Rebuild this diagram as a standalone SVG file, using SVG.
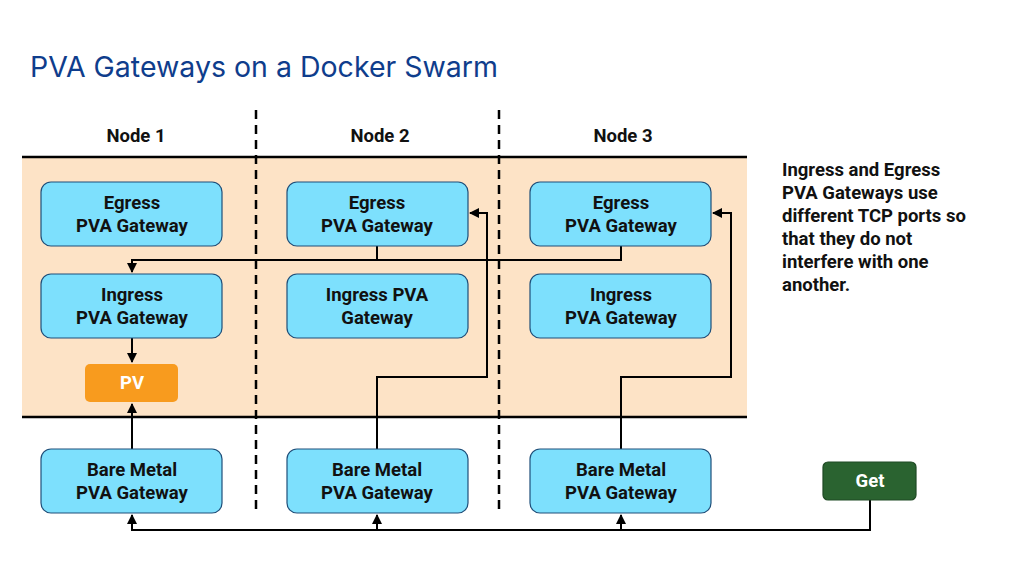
<svg xmlns="http://www.w3.org/2000/svg" width="1024" height="576" viewBox="0 0 1024 576">
<defs>
<marker id="ah" viewBox="0 0 10 10" refX="9" refY="5" markerWidth="5" markerHeight="5" orient="auto"><path d="M0,0L10,5L0,10z" fill="#000"/></marker>
<style>
.n{fill:#7de0fd;stroke:#1f4f7a;stroke-width:1.2}
.t{font-family:Roboto,"Liberation Sans",sans-serif;font-weight:bold;font-size:18.5px;text-anchor:middle;fill:#111}
.w{font-family:Roboto,"Liberation Sans",sans-serif;font-weight:bold;font-size:18.5px;text-anchor:middle;fill:#fff}
.c{fill:none;stroke:#000;stroke-width:2}
.d{stroke:#000;stroke-width:2.5;stroke-dasharray:9,6}
</style>
</defs>
<rect width="1024" height="576" fill="#fff"/>
<text x="30" y="77" font-family="Inter,'Noto Sans',sans-serif" font-size="28.5" fill="#0f3d8c">PVA Gateways on a Docker Swarm</text>
<rect x="22" y="157" width="725" height="260" fill="#fde3c6"/>
<line x1="22" y1="157" x2="747" y2="157" stroke="#000" stroke-width="2.5"/>
<line x1="22" y1="417" x2="747" y2="417" stroke="#000" stroke-width="2.5"/>
<line class="d" x1="256" y1="110" x2="256" y2="515"/>
<line class="d" x1="499" y1="110" x2="499" y2="515"/>
<text class="t" x="136" y="142">Node 1</text>
<text class="t" x="380" y="142">Node 2</text>
<text class="t" x="623" y="142">Node 3</text>
<text font-family="Roboto,'Liberation Sans',sans-serif" font-weight="bold" font-size="18.5" fill="#111"><tspan x="782" y="176">Ingress and Egress</tspan><tspan x="782" y="199">PVA Gateways use</tspan><tspan x="782" y="222">different TCP ports so</tspan><tspan x="782" y="245">that they do not</tspan><tspan x="782" y="268">interfere with one</tspan><tspan x="782" y="291">another.</tspan></text>
<g id="connectors">
<path class="c" d="M377,246V260H132V272" marker-end="url(#ah)"/>
<path class="c" d="M621,246V260H377"/>
<path class="c" d="M132,338V362" marker-end="url(#ah)"/>
<path class="c" d="M132,449V404" marker-end="url(#ah)"/>
<path class="c" d="M377,449V377H487V213H470" marker-end="url(#ah)"/>
<path class="c" d="M621,449V377H731V213H713" marker-end="url(#ah)"/>
<path class="c" d="M870,500V530H132V515" marker-end="url(#ah)"/>
<path class="c" d="M377,530V515" marker-end="url(#ah)"/>
<path class="c" d="M621,530V515" marker-end="url(#ah)"/>
</g>
<g id="egress1"><rect class="n" x="41" y="182" width="181" height="64" rx="10"/><text class="t" x="132" y="209">Egress</text><text class="t" x="132" y="232">PVA Gateway</text></g>
<g id="egress2"><rect class="n" x="287" y="182" width="181" height="64" rx="10"/><text class="t" x="377" y="209">Egress</text><text class="t" x="377" y="232">PVA Gateway</text></g>
<g id="egress3"><rect class="n" x="530" y="182" width="181" height="64" rx="10"/><text class="t" x="621" y="209">Egress</text><text class="t" x="621" y="232">PVA Gateway</text></g>
<g id="ingress1"><rect class="n" x="41" y="274" width="181" height="64" rx="10"/><text class="t" x="132" y="301">Ingress</text><text class="t" x="132" y="324">PVA Gateway</text></g>
<g id="ingress2"><rect class="n" x="287" y="274" width="181" height="64" rx="10"/><text class="t" x="377" y="301">Ingress PVA</text><text class="t" x="377" y="324">Gateway</text></g>
<g id="ingress3"><rect class="n" x="530" y="274" width="181" height="64" rx="10"/><text class="t" x="621" y="301">Ingress</text><text class="t" x="621" y="324">PVA Gateway</text></g>
<g id="pv"><rect x="85" y="364" width="93" height="38" rx="5" fill="#f89b1e"/><text class="w" x="132" y="389">PV</text></g>
<g id="bare1"><rect class="n" x="41" y="449" width="181" height="64" rx="10"/><text class="t" x="132" y="476">Bare Metal</text><text class="t" x="132" y="499">PVA Gateway</text></g>
<g id="bare2"><rect class="n" x="287" y="449" width="181" height="64" rx="10"/><text class="t" x="377" y="476">Bare Metal</text><text class="t" x="377" y="499">PVA Gateway</text></g>
<g id="bare3"><rect class="n" x="530" y="449" width="181" height="64" rx="10"/><text class="t" x="621" y="476">Bare Metal</text><text class="t" x="621" y="499">PVA Gateway</text></g>
<g id="get"><rect x="823" y="462" width="93" height="38" rx="5" fill="#2a6330" stroke="#1f4a24" stroke-width="1.2"/><text class="w" x="870" y="487">Get</text></g>
</svg>
